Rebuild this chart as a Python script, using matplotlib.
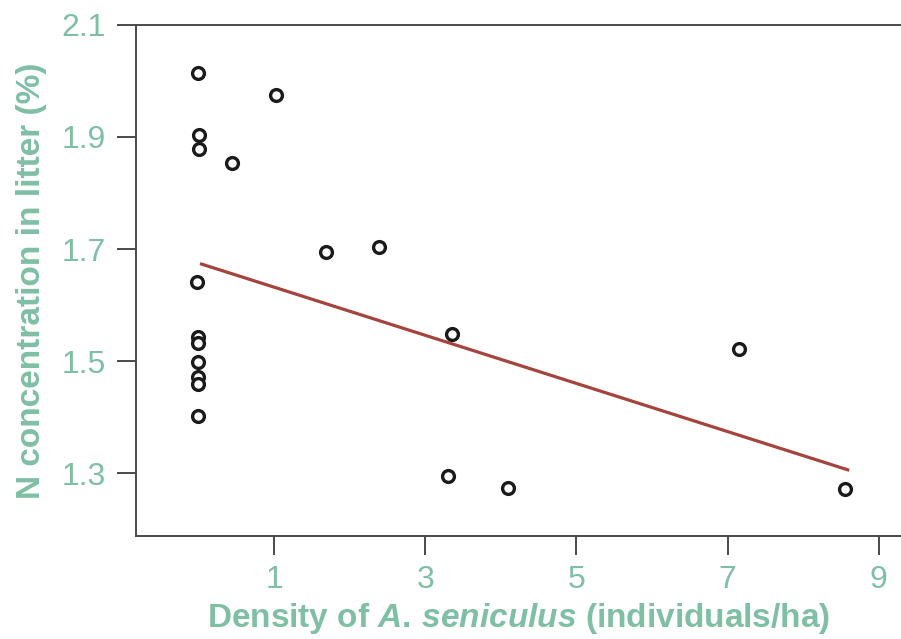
import matplotlib
matplotlib.use("Agg")
import matplotlib.pyplot as plt

# Density of A. seniculus vs litter N concentration
density = [0.00, 1.03, 0.01, 0.01, 0.44, 1.69, 2.39, -0.02, 3.35, 0.00, 0.00,
           0.00, 0.00, 0.00, 0.00, 3.30, 4.10, 7.15, 8.55]
n_conc = [2.014, 1.975, 1.904, 1.878, 1.853, 1.695, 1.704, 1.642, 1.548, 1.543, 1.532,
          1.499, 1.472, 1.459, 1.402, 1.295, 1.273, 1.521, 1.271]

fit_x = [0.02, 8.61]
fit_y = [1.674, 1.305]

x_ticks = [1, 3, 5, 7, 9]
y_ticks = [1.3, 1.5, 1.7, 1.9, 2.1]

green = "#7fbfa4"
spine_col = "#4a4a4a"

plt.rcParams["font.family"] = ["Liberation Sans", "DejaVu Sans"]
plt.rcParams["mathtext.fontset"] = "custom"
plt.rcParams["mathtext.it"] = "Liberation Sans:italic:bold"
plt.rcParams["mathtext.rm"] = "Liberation Sans:bold"

fig = plt.figure(figsize=(9.01, 6.39), dpi=100)
ax = fig.add_axes([0.151, 0.161, 0.849, 0.8])

ax.plot(fit_x, fit_y, color="#a5443d", lw=2.3, solid_capstyle="butt", zorder=2)
ax.plot(density, n_conc, "o", ms=8.5, mfc="white", mec="#1a1a1a", mew=2.4,
        ls="none", zorder=3)

ax.set_xlim(-0.826, 9.295)
ax.set_ylim(1.1875, 2.1)
ax.set_xticks(x_ticks)
ax.set_xticklabels([str(t) for t in x_ticks])
ax.set_yticks(y_ticks)
ax.set_yticklabels([f"{t:.1f}" for t in y_ticks])

ax.spines["right"].set_visible(False)
for side in ["left", "bottom", "top"]:
    ax.spines[side].set_color(spine_col)
    ax.spines[side].set_linewidth(1.4)

ax.tick_params(axis="both", length=14, width=1.4, color=spine_col,
               labelcolor=green, labelsize=23)
ax.tick_params(axis="x", pad=7)
ax.tick_params(axis="y", pad=8)

ax.set_xlabel(r"Density of $\mathit{A.\,seniculus}$ (individuals/ha)",
              color=green, fontsize=24, fontweight="bold", labelpad=4)
ax.set_ylabel("N concentration in litter (%)", color=green, fontsize=24,
              fontweight="bold", labelpad=10)

fig.savefig("out.png", dpi=100)
